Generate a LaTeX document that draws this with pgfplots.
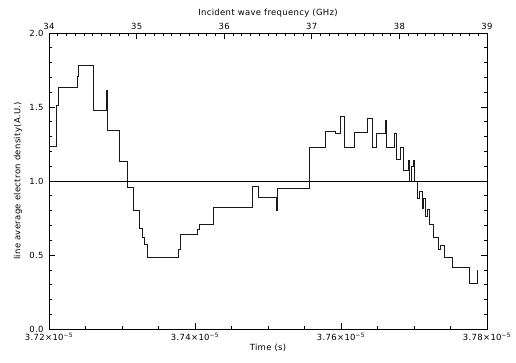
\documentclass[border=0pt]{standalone}
\usepackage{fontspec}
\setmainfont[LetterSpace=4]{DejaVu Sans}
\usepackage{pgfplots}
\pgfplotsset{compat=1.18}
\begin{document}
\begin{tikzpicture}
\pgfplotsset{
  common/.style={
    scale only axis, width=438bp, height=296bp,
    ymin=0, ymax=2,
    tick align=inside,
    major tick length=6.5bp, minor tick length=3.5bp,
    every tick/.style={black, line width=0.6bp},
    axis line style={line width=0.8bp},
    font=\fontsize{8.5}{10}\selectfont,
    scaled x ticks=false, scaled y ticks=false,
  }
}
\begin{axis}[common, name=ax,
  xmin=37200, xmax=37800,
  xtick={37200,37400,37600,37800},
  xticklabels={3.72×10\textsuperscript{−5},3.74×10\textsuperscript{−5},3.76×10\textsuperscript{−5},3.78×10\textsuperscript{−5}},
  minor x tick num=3,
  ytick={0,0.5,1,1.5,2},
  yticklabels={0.0,0.5,1.0,1.5,2.0},
  minor y tick num=4,
  xtick pos=left, ytick pos=both,
  yticklabel pos=left,
  xticklabel style={yshift=-1bp},
  yticklabel style={xshift=-2bp},
  xlabel={Time (s)},
  ylabel={line average electron density(A.U.)},
  xlabel style={at={(axis description cs:0.5,-0.064)}, anchor=center},
  ylabel style={at={(axis description cs:-0.0708,0.5)}, anchor=center, rotate=0},
]
\addplot[const plot, black!90, line width=0.7bp] coordinates {
(37200,1.236) (37210.5,1.51) (37212.7,1.633) (37238.8,1.71) (37240.1,1.78)
(37260.7,1.475) (37278.8,1.61) (37280.1,1.345) (37296.3,1.13) (37307.3,0.957)
(37315.5,0.804) (37323.7,0.68) (37327.8,0.62) (37330.1,0.574) (37335.2,0.482)
(37377.1,0.538) (37379.5,0.64) (37403.7,0.674) (37405.5,0.707) (37425.1,0.822)
(37479.0,0.966) (37486.7,0.888) (37511.0,0.804) (37512.7,0.95) (37557.3,1.228)
(37579.2,1.334) (37591.8,1.32) (37598.6,1.44) (37604.5,1.23) (37617.8,1.33)
(37636.0,1.42) (37642.9,1.227) (37648.9,1.32) (37660.3,1.41) (37662.6,1.227)
(37672.6,1.32) (37676.3,1.146) (37681.8,1.227) (37685.4,1.074) (37691.8,1.142)
(37693.6,1.0) (37696.9,1.1) (37699.1,1.142) (37700.0,1.0) (37704.5,0.883)
(37706.9,0.93) (37711.0,0.814) (37713.0,0.88) (37715.1,0.759) (37717.8,0.81)
(37720.5,0.71) (37726.5,0.617) (37733.3,0.538) (37735.6,0.567) (37741.5,0.484)
(37753.0,0.416) (37775.8,0.309) (37787.3,0.399)
};
\addplot[black, line width=0.7bp] coordinates {(37200,1) (37800,1)};
\end{axis}
\begin{axis}[common,
  xmin=34, xmax=39,
  xtick={34,35,36,37,38,39},
  xticklabels={34,35,36,37,38,39},
  minor x tick num=9,
  xtick pos=right, xticklabel pos=right,
  hide y axis,
  xlabel={Incident wave frequency (GHz)},
  xlabel style={at={(axis description cs:0.5,1.0676)}, anchor=center},
]
\end{axis}
\path ([shift={(-49bp,-34bp)}]ax.south west) rectangle ([shift={(29bp,33bp)}]ax.north east);
\end{tikzpicture}
\end{document}
